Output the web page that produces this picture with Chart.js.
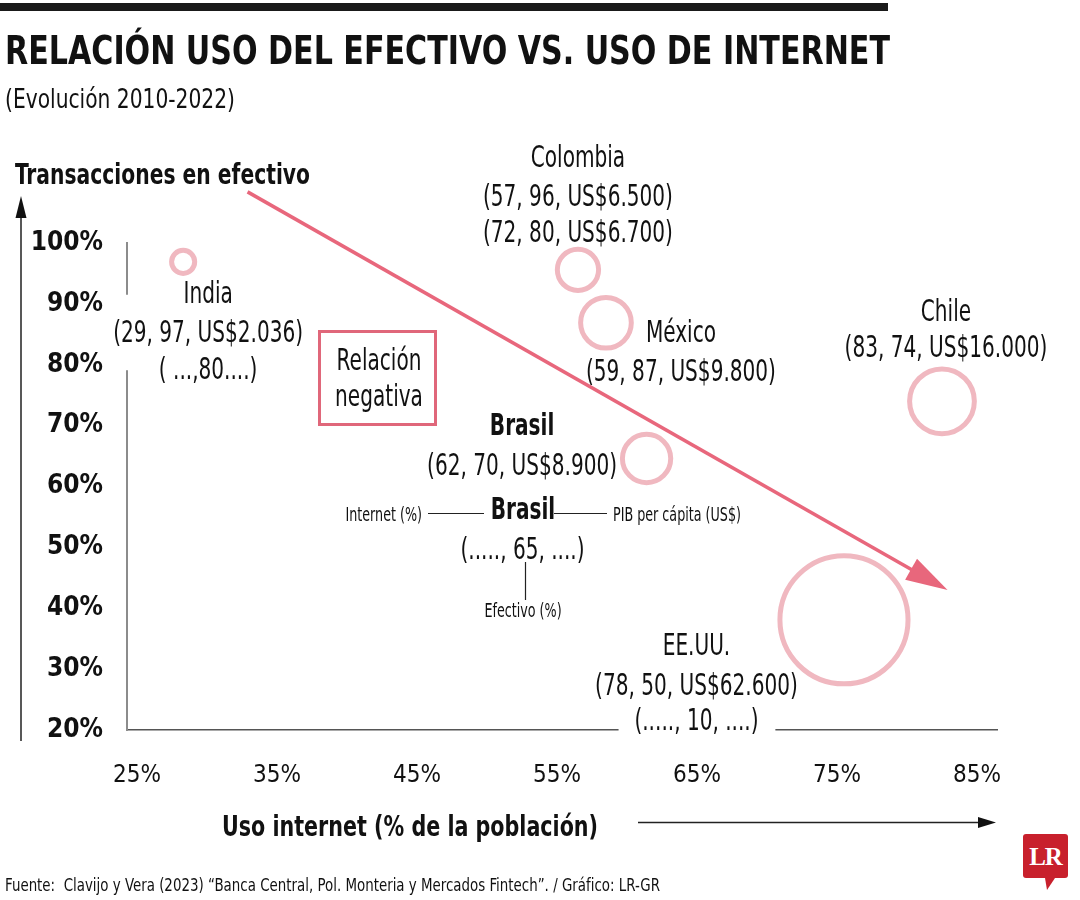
<!DOCTYPE html>
<html lang="es">
<head>
<meta charset="utf-8">
<title>Relación uso del efectivo vs. uso de internet</title>
<script src="https://cdn.jsdelivr.net/npm/chart.js@4.4.1/dist/chart.umd.min.js"></script>
<style>
html,body{margin:0;padding:0;background:#fff;}
body{width:1080px;height:900px;position:relative;overflow:hidden;
  font-family:"Liberation Sans Narrow","Arial Narrow","DejaVu Sans Condensed","Liberation Sans",sans-serif;color:#111;}
#chartWrap{position:absolute;left:0;top:0;width:1080px;height:900px;}
#topbar{position:absolute;left:0;top:3px;width:888px;height:8px;background:#1a1a1a;}
.t{position:absolute;white-space:nowrap;transform-origin:0 0;line-height:1;}
#title{left:5px;top:31px;font-size:39px;font-weight:bold;}
#subtitle{left:5px;top:85px;font-size:27px;}
#source{left:5px;top:876px;font-size:18px;}
#logo{position:absolute;left:1023px;top:834px;width:45px;height:44px;background:#c8202c;border-radius:3px;
  color:#fff;font-family:"Liberation Serif","DejaVu Serif",serif;font-weight:bold;font-size:25px;line-height:45px;text-align:center;letter-spacing:-1px;}
#logo:after{content:"";position:absolute;left:22px;top:44px;width:0;height:0;
  border-top:12px solid #c8202c;border-left:2px solid transparent;border-right:8px solid transparent;}
</style>
</head>
<body>
<div id="chartWrap"><canvas id="chart"></canvas></div>
<div id="topbar"></div>
<div id="title" class="t">RELACIÓN USO DEL EFECTIVO VS. USO DE INTERNET</div>
<div id="subtitle" class="t">(Evolución 2010-2022)</div>
<div id="source" class="t">Fuente:&nbsp; Clavijo y Vera (2023) “Banca Central, Pol. Monteria y Mercados Fintech”. / Gráfico: LR-GR</div>
<div id="logo">LR</div>
<script>
// ---------------- DATA ----------------
const countries    = ['India', 'Colombia', 'México', 'Brasil', 'Chile', 'EE.UU.'];
const internetUse  = [28.3, 56.5, 58.5, 61.4, 82.5, 75.5];   // % población (posición en eje X)
const cashUse      = [96.9, 95.6, 86.9, 64.6, 74.0, 38.1];   // % transacciones en efectivo (eje Y)
const gdpPerCapita = [2036, 6500, 9800, 8900, 16000, 62600]; // US$ (tamaño de la burbuja)
const labelFigures = [
  ['(29, 97, US$2.036)', '( ...,80....)'],
  ['(57, 96, US$6.500)', '(72, 80, US$6.700)'],
  ['(59, 87, US$9.800)'],
  ['(62, 70, US$8.900)'],
  ['(83, 74, US$16.000)'],
  ['(78, 50, US$62.600)', '(....., 10, ....)']
];
const xTicks = [25, 35, 45, 55, 65, 75, 85];
const yTicks = [20, 30, 40, 50, 60, 70, 80, 90, 100];
const trendX = [32.9, 82.9];   // flecha "relación negativa"
const trendY = [108.4, 43.0];
const legendKey = { name: 'Brasil', value: '(....., 65, ....)', left: 'Internet (%)', right: 'PIB per cápita (US$)', below: 'Efectivo (%)' };
const boxText = ['Relación', 'negativa'];
const yTitle = 'Transacciones en efectivo';
const xTitle = 'Uso internet (% de la población)';

// ---------------- STYLE / LAYOUT ----------------
const FONT = '"Liberation Sans Narrow", "Arial Narrow", "DejaVu Sans Condensed", "Liberation Sans", sans-serif';
const INK = '#111';
const PINK = '#e8677c';
const RING = '#f0b8c0';
// label offsets (px) from each bubble centre: dx, dy of each line (name first)
const labelLayout = [
  { dx: 25,     dy: [30, 69, 106] },
  { dx: 0,      dy: [-113.5, -74.5, -38.5] },
  { dx: 75,     dy: [9, 48] },
  { dx: -124.5, dy: [-34, 5.5] },
  { dx: 4,      dy: [-91.5, -55.5] },
  { dx: -147.5, dy: [24, 64.5, 99] }
];
const yBreak = [79.1, 91.5];   // axis gap behind India label (data units)
const xBreak = [59.4, 70.6];   // axis gap behind EE.UU. label

function bubbleRadius(g) { return 0.256 * Math.sqrt(g); }

let SX = 1;
(function calibrate() {
  const c = document.createElement('canvas').getContext('2d');
  c.font = 'normal 30px ' + FONT;
  const w = c.measureText('(57, 96, US$6.500)').width;
  SX = Math.min(1.1, Math.max(0.65, 190 / w));
})();

function drawText(ctx, s, x, y, o) {
  o = o || {};
  const size = o.size || 30;
  ctx.save();
  ctx.font = (o.weight || 'normal') + ' ' + size + 'px ' + FONT;
  ctx.textAlign = 'left';
  ctx.textBaseline = 'alphabetic';
  ctx.fillStyle = o.color || INK;
  const w0 = ctx.measureText(s).width;
  const sx = o.w ? o.w / w0 : (o.sx || SX);
  const w = w0 * sx;
  let left = x;
  if ((o.align || 'center') === 'center') left = x - w / 2;
  else if (o.align === 'right') left = x - w;
  ctx.translate(left, y + 0.358 * size);
  ctx.scale(sx, 1);
  ctx.fillText(s, 0, 0);
  ctx.restore();
  return w;
}

function arrowHead(ctx, tx, ty, ux, uy, len, half, color) {
  const bx = tx - ux * len, by = ty - uy * len;
  ctx.beginPath();
  ctx.moveTo(tx, ty);
  ctx.lineTo(bx - uy * half, by + ux * half);
  ctx.lineTo(bx + uy * half, by - ux * half);
  ctx.closePath();
  ctx.fillStyle = color;
  ctx.fill();
}

const annotate = {
  id: 'annotate',
  afterDatasetsDraw(chart) {
    const ctx = chart.ctx;
    const x = chart.scales.x, y = chart.scales.y;
    ctx.save();
    // axis gaps behind labels
    ctx.fillStyle = '#fff';
    const yb0 = y.getPixelForValue(yBreak[1]), yb1 = y.getPixelForValue(yBreak[0]);
    ctx.fillRect(x.left - 6, yb0, 12, yb1 - yb0);
    const xb0 = x.getPixelForValue(xBreak[0]), xb1 = x.getPixelForValue(xBreak[1]);
    ctx.fillRect(xb0, y.bottom - 5, xb1 - xb0, 10);

    // trend arrow
    const p0x = x.getPixelForValue(trendX[0]), p0y = y.getPixelForValue(trendY[0]);
    const p1x = x.getPixelForValue(trendX[1]), p1y = y.getPixelForValue(trendY[1]);
    const L = Math.hypot(p1x - p0x, p1y - p0y);
    const ux = (p1x - p0x) / L, uy = (p1y - p0y) / L;
    ctx.strokeStyle = PINK; ctx.lineWidth = 3.5; ctx.lineCap = 'butt';
    ctx.beginPath();
    ctx.moveTo(p0x, p0y);
    ctx.lineTo(p1x - ux * 30, p1y - uy * 30);
    ctx.stroke();
    arrowHead(ctx, p1x, p1y, ux, uy, 42, 12, PINK);

    // country labels
    const meta = chart.getDatasetMeta(0);
    countries.forEach((name, i) => {
      const pt = meta.data[i];
      const lay = labelLayout[i];
      const cx = pt.x + lay.dx;
      drawText(ctx, name, cx, pt.y + lay.dy[0], { size: 30, weight: name === 'Brasil' ? 'bold' : 'normal' });
      labelFigures[i].forEach((s, j) => {
        drawText(ctx, s, cx, pt.y + lay.dy[j + 1], { size: 30 });
      });
    });

    // "Relación negativa" box
    ctx.strokeStyle = '#e0677a'; ctx.lineWidth = 3;
    ctx.strokeRect(319.5, 331.5, 116, 93);
    drawText(ctx, boxText[0], 379, 359, { size: 30 });
    drawText(ctx, boxText[1], 379, 395, { size: 30 });

    // Brasil reading key
    drawText(ctx, legendKey.name, 523, 508, { size: 30, weight: 'bold' });
    drawText(ctx, legendKey.left, 422, 514, { size: 19, align: 'right' });
    drawText(ctx, legendKey.right, 613, 514, { size: 19, align: 'left' });
    drawText(ctx, legendKey.value, 522.5, 548, { size: 30 });
    drawText(ctx, legendKey.below, 523, 610, { size: 19 });
    ctx.strokeStyle = '#222'; ctx.lineWidth = 1.2;
    ctx.beginPath();
    ctx.moveTo(428, 513.5); ctx.lineTo(484, 513.5);
    ctx.moveTo(554, 513.5); ctx.lineTo(607, 513.5);
    ctx.moveTo(525.5, 562); ctx.lineTo(525.5, 600);
    ctx.stroke();

    // axis titles and side arrows
    drawText(ctx, yTitle, 15, 174, { size: 29, weight: 'bold', align: 'left', w: 295 });
    drawText(ctx, xTitle, 222, 826, { size: 29, weight: 'bold', align: 'left', w: 376 });
    ctx.strokeStyle = '#222'; ctx.lineWidth = 1.5;
    ctx.beginPath();
    ctx.moveTo(21, 741); ctx.lineTo(21, 212);
    ctx.moveTo(638, 822.5); ctx.lineTo(984, 822.5);
    ctx.stroke();
    arrowHead(ctx, 21, 196, 0, -1, 22, 5.5, '#111');
    arrowHead(ctx, 996, 822.5, 1, 0, 18, 5.5, '#111');
    ctx.restore();
  }
};

const bubbleData = countries.map((c, i) => ({ x: internetUse[i], y: cashUse[i], r: bubbleRadius(gdpPerCapita[i]) }));

new Chart(document.getElementById('chart'), {
  type: 'bubble',
  data: {
    datasets: [{
      label: 'Países',
      data: bubbleData,
      backgroundColor: 'rgba(255,255,255,0)',
      borderColor: RING,
      borderWidth: 5,
      hoverBorderWidth: 5,
      clip: false
    }]
  },
  options: {
    responsive: true,
    maintainAspectRatio: false,
    animation: false,
    events: [],
    layout: { padding: { left: 0, top: 243, right: 83, bottom: 0 } },
    plugins: { legend: { display: false }, tooltip: { enabled: false } },
    scales: {
      x: {
        type: 'linear', min: 24.29, max: 86.43,
        afterBuildTicks(s) { s.ticks = xTicks.map(v => ({ value: v })); },
        afterFit(s) { s.height = 170; },
        grid: { display: false, drawTicks: false },
        border: { display: true, color: '#555', width: 1.5 },
        ticks: { callback: v => v + '%', padding: 31, autoSkip: false, maxRotation: 0,
                 font: { family: FONT, size: 24 }, color: INK }
      },
      y: {
        type: 'linear', min: 20, max: 100,
        afterBuildTicks(s) { s.ticks = yTicks.map(v => ({ value: v })); },
        afterFit(s) { s.width = 127; },
        grid: { display: false, drawTicks: false },
        border: { display: true, color: '#8c8c8c', width: 2 },
        ticks: { callback: v => v + '%', padding: 24, autoSkip: false,
                 font: { family: FONT, size: 26, weight: 'bold' }, color: INK }
      }
    }
  },
  plugins: [annotate]
});

// fit HTML headline widths to the reference layout
function fitWidth(id, target) {
  const el = document.getElementById(id);
  const w = el.getBoundingClientRect().width;
  if (w > 0) el.style.transform = 'scaleX(' + (target / w) + ')';
}
fitWidth('title', 885);
fitWidth('subtitle', 230);
fitWidth('source', 655);
</script>
</body>
</html>
